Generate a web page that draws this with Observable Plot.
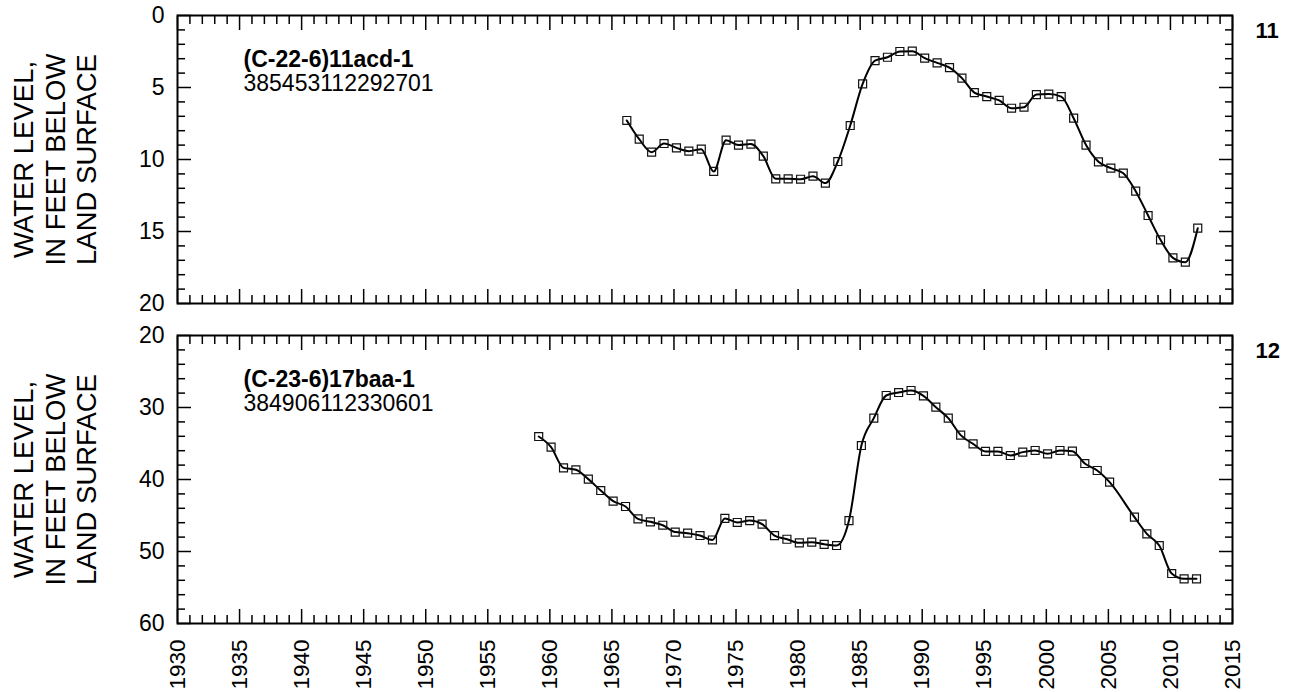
<!DOCTYPE html>
<html><head><meta charset="utf-8">
<script src="https://cdn.jsdelivr.net/npm/d3@7"></script>
<script src="https://cdn.jsdelivr.net/npm/@observablehq/plot@0.6"></script>
<style>
body{margin:0;background:#fff;}
#wrap{position:relative;width:1297px;height:692px;overflow:hidden;background:#fff;font-family:"Liberation Sans",Arial,sans-serif;}
#wrap svg{position:absolute;left:0;}
</style></head><body><div id="wrap"></div>
<script>
// Panel 11: (C-22-6)11acd-1
const years1 = [1966.2,1967.2,1968.2,1969.2,1970.2,1971.2,1972.2,1973.2,1974.2,1975.2,1976.2,1977.2,1978.2,1979.2,1980.2,1981.2,1982.2,1983.2,1984.2,1985.2,1986.2,1987.2,1988.2,1989.2,1990.2,1991.2,1992.2,1993.2,1994.2,1995.2,1996.2,1997.2,1998.2,1999.2,2000.2,2001.2,2002.2,2003.2,2004.2,2005.2,2006.2,2007.2,2008.2,2009.2,2010.2,2011.2,2012.2];
const levels1 = [7.29,8.59,9.49,8.89,9.19,9.42,9.28,10.83,8.66,9.0,8.93,9.77,11.34,11.34,11.37,11.16,11.64,10.14,7.64,4.75,3.13,2.9,2.5,2.48,2.96,3.29,3.62,4.35,5.35,5.63,5.9,6.44,6.37,5.49,5.46,5.63,7.13,9.0,10.16,10.6,10.95,12.2,13.89,15.58,16.83,17.13,14.77];
// Panel 12: (C-23-6)17baa-1
const years2 = [1959.1,1960.1,1961.1,1962.1,1963.1,1964.1,1965.1,1966.1,1967.1,1968.1,1969.1,1970.1,1971.1,1972.1,1973.1,1974.1,1975.1,1976.1,1977.1,1978.1,1979.1,1980.1,1981.1,1982.1,1983.1,1984.1,1985.1,1986.1,1987.1,1988.1,1989.1,1990.1,1991.1,1992.1,1993.1,1994.1,1995.1,1996.1,1997.1,1998.1,1999.1,2000.1,2001.1,2002.1,2003.1,2004.1,2005.1,2007.1,2008.1,2009.1,2010.1,2011.1,2012.1];
const levels2 = [34.03,35.5,38.38,38.65,39.95,41.53,43.0,43.75,45.46,45.88,46.35,47.3,47.45,47.78,48.4,45.4,45.97,45.7,46.2,47.8,48.3,48.8,48.7,49.0,49.17,45.7,35.28,31.48,28.33,27.92,27.64,28.38,29.96,31.48,33.84,35.05,36.1,36.1,36.67,36.2,35.97,36.44,35.97,36.07,37.78,38.75,40.37,45.23,47.55,49.17,53.06,53.8,53.8];

const xTickLabels = [1930,1935,1940,1945,1950,1955,1960,1965,1970,1975,1980,1985,1990,1995,2000,2005,2010,2015];
const yTicks1 = [0,5,10,15,20];
const yTicks2 = [20,30,40,50,60];
const names1 = ["(C-22-6)11acd-1", "385453112292701", "11"];
const names2 = ["(C-23-6)17baa-1", "384906112330601", "12"];
const yTitle = "WATER LEVEL,\nIN FEET BELOW\nLAND SURFACE";

const FONT = "Liberation Sans, Arial, Helvetica, sans-serif";
const xMinor = d3.range(1930, 2016).filter(v => v % 5 !== 0);

function panel(o) {
  const data = o.years.map((t, i) => ({t, v: o.levels[i]}));
  const tickOpts = {strokeWidth: 1.5, tickFormat: () => ""};
  const marks = [
    Plot.axisX(xMinor, {anchor: "bottom", tickSize: -8, ...tickOpts}),
    Plot.axisX(xMinor, {anchor: "top", tickSize: -8, ...tickOpts}),
    Plot.axisX(xTickLabels, {anchor: "bottom", tickSize: -14, ...tickOpts}),
    Plot.axisX(xTickLabels, {anchor: "top", tickSize: -14, ...tickOpts}),
    Plot.axisY(o.yMinor, {anchor: "left", tickSize: -8, ...tickOpts}),
    Plot.axisY(o.yMinor, {anchor: "right", tickSize: -8, ...tickOpts}),
    Plot.axisY(o.yTicks, {anchor: "left", tickSize: -14, ...tickOpts}),
    Plot.axisY(o.yTicks, {anchor: "right", tickSize: -14, ...tickOpts}),
    Plot.axisY(o.yTicks, {anchor: "left", tickSize: 0, tickPadding: 13, fontSize: 23, tickFormat: d => String(d)}),
    o.xLabels ? Plot.axisX(xTickLabels, {anchor: "bottom", tickSize: 0, tickPadding: 16, tickRotate: -90, fontSize: 22.5, tickFormat: d => String(d)}) : null,
    Plot.line(data, {x: "t", y: "v", curve: "monotone-x", stroke: "#000", strokeWidth: 2}),
    Plot.dot(data, {x: "t", y: "v", symbol: "square", r: 4.5, stroke: "#111", strokeWidth: 1.2, fill: "none"}),
    Plot.text([o.names[0]], {frameAnchor: "top-left", dx: 66, dy: 51, lineAnchor: "bottom", textAnchor: "start", fontWeight: "bold", fontSize: 23, fill: "#000"}),
    Plot.text([o.names[1]], {frameAnchor: "top-left", dx: 66, dy: 75, lineAnchor: "bottom", textAnchor: "start", fontSize: 23, fill: "#000"}),
    Plot.text([o.names[2]], {frameAnchor: "top-right", dx: 23, dy: 22, lineAnchor: "bottom", textAnchor: "start", fontWeight: "bold", fontSize: 22, fill: "#000"}),
    Plot.text([yTitle], {frameAnchor: "left", dx: -123, rotate: -90, fontSize: 27.5, lineHeight: 1.15, textAnchor: "middle", lineAnchor: "middle", fill: "#000"}),
    Plot.frame({stroke: "#000", strokeWidth: 2})
  ];
  const svg = Plot.plot({
    width: 1297,
    height: o.height,
    marginLeft: 177,
    marginRight: 65,
    marginTop: o.marginTop,
    marginBottom: o.marginBottom,
    style: {fontFamily: FONT, fontSize: "23px", color: "#000", background: "transparent", overflow: "visible"},
    x: {domain: [1930, 2015], label: null},
    y: {domain: o.yDomain, reverse: true, label: null},
    marks
  });
  svg.style.top = o.top + "px";
  return svg;
}

const wrap = document.getElementById("wrap");
wrap.appendChild(panel({
  years: years1, levels: levels1, names: names1,
  yDomain: [0, 20], yTicks: yTicks1, yMinor: d3.range(0, 21, 1).filter(v => v % 5 !== 0),
  top: 0, height: 310, marginTop: 15, marginBottom: 7, xLabels: false
}));
wrap.appendChild(panel({
  years: years2, levels: levels2, names: names2,
  yDomain: [20, 60], yTicks: yTicks2, yMinor: d3.range(20, 61, 2).filter(v => v % 10 !== 0),
  top: 310, height: 382, marginTop: 25, marginBottom: 69, xLabels: true
}));
</script>
</body></html>
